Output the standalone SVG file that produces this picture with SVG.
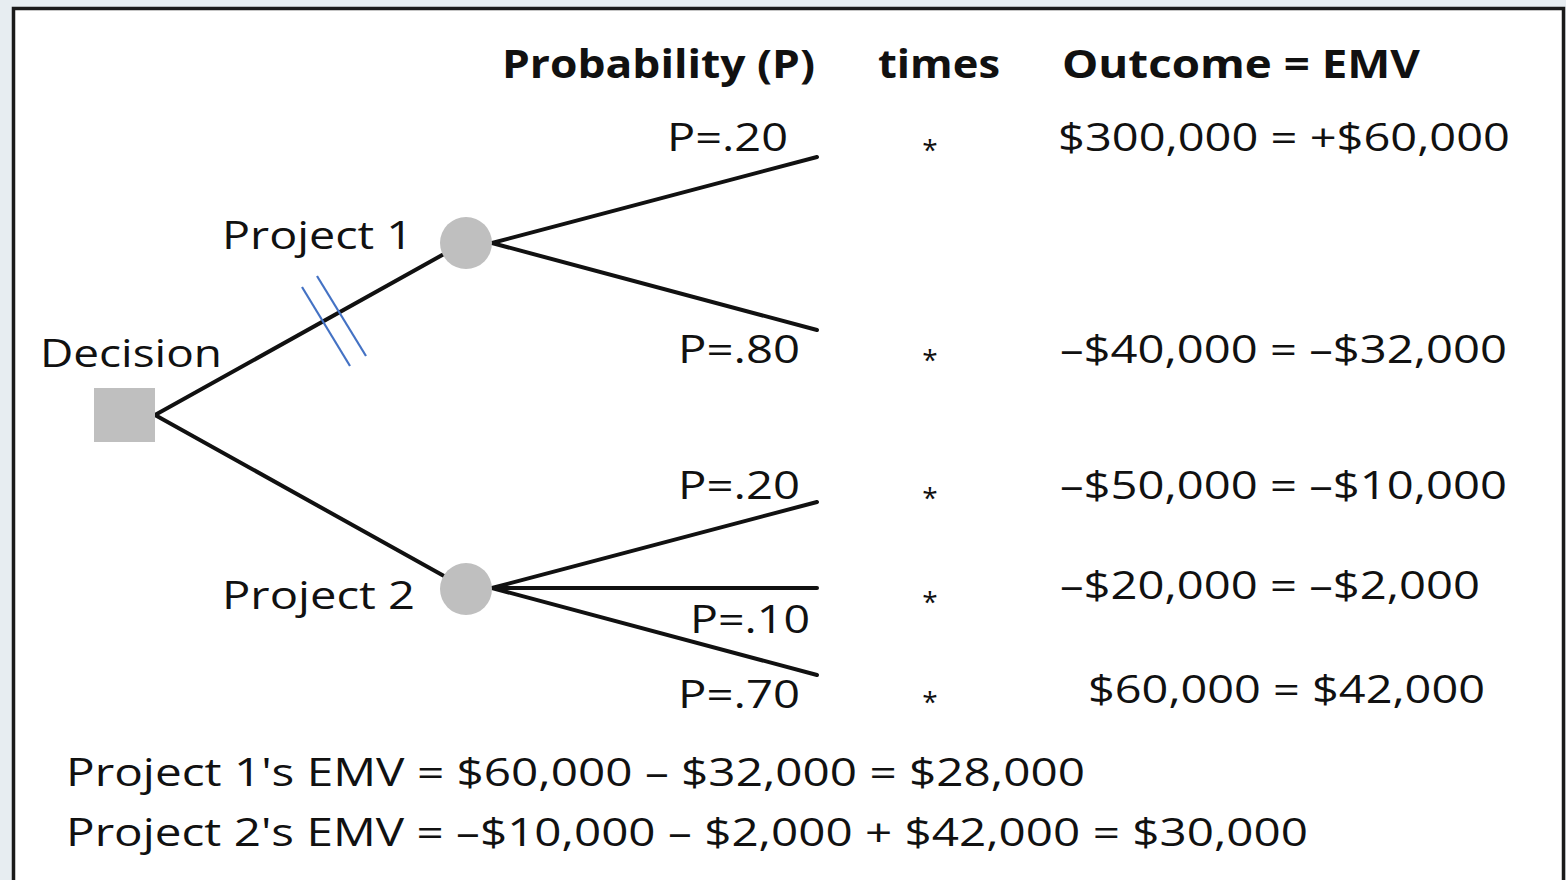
<svg xmlns="http://www.w3.org/2000/svg" width="1566" height="880" viewBox="0 0 1566 880">
<style>
text{font-family:"Open Sans","Noto Sans","Liberation Sans",sans-serif;fill:#111}
.h{font-weight:bold;font-size:39px}
.t{font-size:39px}
.s{font-size:28px}
.br{stroke:#111;stroke-width:4;fill:none;stroke-linecap:round}
.mk{stroke:#4472c4;stroke-width:2.2}
</style>
<rect x="0" y="0" width="1566" height="880" fill="#e7edf1"/>
<rect x="13.5" y="8.5" width="1550" height="880" fill="#fff" stroke="#1a1a1a" stroke-width="3.5"/>
<g id="headers">
<text class="h" x="502" y="78" textLength="313" lengthAdjust="spacingAndGlyphs">Probability (P)</text>
<text class="h" x="878" y="78" textLength="122" lengthAdjust="spacingAndGlyphs">times</text>
<text class="h" x="1062" y="78" textLength="358" lengthAdjust="spacingAndGlyphs">Outcome = EMV</text>
</g>
<g id="connectors">
<line class="br" x1="155" y1="415" x2="444" y2="254"/>
<line class="br" x1="155" y1="415" x2="444" y2="576"/>
<line class="br" x1="492" y1="243" x2="817" y2="157"/>
<line class="br" x1="492" y1="243" x2="817" y2="330"/>
<line class="br" x1="492" y1="588" x2="817" y2="502"/>
<line class="br" x1="492" y1="588" x2="817" y2="588"/>
<line class="br" x1="492" y1="588" x2="817" y2="675"/>
<line class="mk" x1="302" y1="287" x2="350" y2="366"/>
<line class="mk" x1="317" y1="276" x2="366" y2="356"/>
</g>
<g id="decision">
<rect x="94" y="388" width="61" height="54" fill="#bfbfbf"/>
<text class="t" x="40" y="367" textLength="182" lengthAdjust="spacingAndGlyphs">Decision</text>
</g>
<g id="project1">
<circle cx="466" cy="243" r="26" fill="#bfbfbf"/>
<text class="t" x="222" y="249" textLength="191" lengthAdjust="spacingAndGlyphs">Project 1</text>
</g>
<g id="project2">
<circle cx="466" cy="589" r="26" fill="#bfbfbf"/>
<text class="t" x="222" y="609" textLength="193" lengthAdjust="spacingAndGlyphs">Project 2</text>
</g>
<g id="p1-high">
<text class="t" x="667" y="151" textLength="121" lengthAdjust="spacingAndGlyphs">P=.20</text>
<text class="s" x="930" y="160" text-anchor="middle">*</text>
<text class="t" x="1058" y="151" textLength="452" lengthAdjust="spacingAndGlyphs">$300,000 = +$60,000</text>
</g>
<g id="p1-low">
<text class="t" x="678" y="363" textLength="122" lengthAdjust="spacingAndGlyphs">P=.80</text>
<text class="s" x="930" y="370" text-anchor="middle">*</text>
<text class="t" x="1060" y="363" textLength="447" lengthAdjust="spacingAndGlyphs">–$40,000 = –$32,000</text>
</g>
<g id="p2-a">
<text class="t" x="678" y="499" textLength="122" lengthAdjust="spacingAndGlyphs">P=.20</text>
<text class="s" x="930" y="508" text-anchor="middle">*</text>
<text class="t" x="1060" y="499" textLength="447" lengthAdjust="spacingAndGlyphs">–$50,000 = –$10,000</text>
</g>
<g id="p2-b">
<text class="t" x="690" y="633" textLength="120" lengthAdjust="spacingAndGlyphs">P=.10</text>
<text class="s" x="930" y="612" text-anchor="middle">*</text>
<text class="t" x="1060" y="599" textLength="420" lengthAdjust="spacingAndGlyphs">–$20,000 = –$2,000</text>
</g>
<g id="p2-c">
<text class="t" x="678" y="708" textLength="122" lengthAdjust="spacingAndGlyphs">P=.70</text>
<text class="s" x="930" y="712" text-anchor="middle">*</text>
<text class="t" x="1088" y="703" textLength="397" lengthAdjust="spacingAndGlyphs">$60,000 = $42,000</text>
</g>
<g id="summary">
<text class="t" x="66" y="786" textLength="1019" lengthAdjust="spacingAndGlyphs">Project 1's EMV = $60,000 – $32,000 = $28,000</text>
<text class="t" x="66" y="846" textLength="1242" lengthAdjust="spacingAndGlyphs">Project 2's EMV = –$10,000 – $2,000 + $42,000 = $30,000</text>
</g>
</svg>
